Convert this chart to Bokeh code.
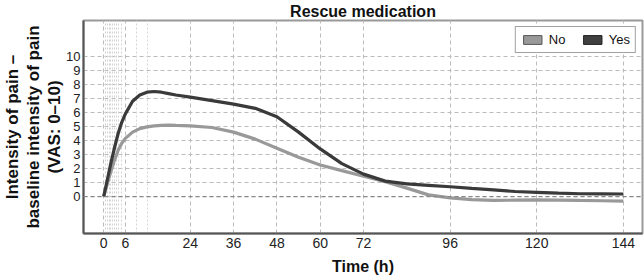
from bokeh.plotting import figure
from bokeh.models import FixedTicker, Grid, Span, Legend, LegendItem, Title, ColumnDataSource, Range1d
from bokeh.embed import file_html
from bokeh.resources import INLINE

# Data
time_h = [0, 1, 2, 3, 4, 5, 6, 8, 10, 12, 14, 16, 18, 20, 24, 30, 36, 42, 48, 54, 60, 66,
          72, 78, 84, 90, 96, 102, 108, 114, 120, 126, 132, 138, 144]
rescue_yes = [0, 1.2, 2.4, 3.5, 4.5, 5.3, 5.9, 6.8, 7.25, 7.45, 7.5, 7.45, 7.35, 7.25, 7.1,
              6.85, 6.6, 6.3, 5.7, 4.6, 3.4, 2.35, 1.6, 1.1, 0.9, 0.8, 0.7, 0.58, 0.47, 0.36,
              0.3, 0.24, 0.2, 0.19, 0.18]
rescue_no = [0, 0.9, 1.8, 2.6, 3.3, 3.8, 4.15, 4.6, 4.85, 4.97, 5.05, 5.08, 5.1, 5.08, 5.05,
             4.93, 4.6, 4.1, 3.45, 2.8, 2.25, 1.85, 1.45, 1.05, 0.6, 0.12, -0.1, -0.22, -0.28,
             -0.26, -0.24, -0.25, -0.28, -0.3, -0.33]
x_ticks = [0, 6, 24, 36, 48, 60, 72, 96, 120, 144]
x_minor_lines = [0.5, 1, 1.5, 2, 2.5, 3, 3.5, 4, 5, 9, 12]
y_ticks = list(range(0, 11))

FONT = "Liberation Sans"
nan = float("nan")

p = figure(width=644, height=277, output_backend="svg", toolbar_location=None,
           x_range=Range1d(-5.6, 149.3), y_range=Range1d(-2.64, 12.57),
           min_border_left=0, min_border_right=2, min_border_top=0, min_border_bottom=0,
           background_fill_color="white", border_fill_color="white")

p.title.text = "Rescue medication"
p.title.align = "center"
p.title.text_font = FONT
p.title.text_font_size = "16px"
p.title.text_font_style = "bold"
p.title.text_color = "#111111"
p.title.standoff = 1
p.title.offset = 0

p.outline_line_color = "#999999"
p.outline_line_width = 2

# axes
for ax in (p.xaxis[0], p.yaxis[0]):
    ax.axis_line_color = "#555555"
    ax.axis_line_width = 2
    ax.major_tick_out = 0
    ax.major_tick_in = 0
    ax.minor_tick_out = 0
    ax.minor_tick_in = 0
    ax.major_label_text_font = FONT
    ax.major_label_text_color = "#222222"

p.xaxis[0].major_label_text_font_size = "14px"
p.yaxis[0].major_label_text_font_size = "13px"
p.xaxis[0].ticker = FixedTicker(ticks=x_ticks)
p.yaxis[0].ticker = FixedTicker(ticks=y_ticks)
p.xaxis[0].major_label_standoff = 4
p.yaxis[0].major_label_standoff = 3
p.xaxis[0].axis_label = "Time (h)"
p.xaxis[0].axis_label_text_font = FONT
p.xaxis[0].axis_label_text_font_size = "16px"
p.xaxis[0].axis_label_text_font_style = "bold"
p.xaxis[0].axis_label_text_color = "#111111"
p.xaxis[0].axis_label_standoff = 7

# left multi-line label via titles
for line in ["(VAS: 0\u201310)", "baseline intensity of pain", "Intensity of pain \u2013"]:
    t = Title(text=line, align="center", text_font=FONT, text_font_size="17px",
              text_font_style="bold", text_color="#111111", standoff=0, offset=0)
    p.add_layout(t, "left")

# grids
p.xgrid[0].ticker = FixedTicker(ticks=x_ticks)
p.ygrid[0].ticker = FixedTicker(ticks=y_ticks)
p.xgrid[0].grid_line_color = "#bbbbbb"
p.xgrid[0].grid_line_dash = "4 3"
p.ygrid[0].grid_line_color = "#bbbbbb"
p.ygrid[0].grid_line_dash = "4 3"
minor = Grid(dimension=0, ticker=FixedTicker(ticks=x_minor_lines),
             grid_line_color="#d4d4d4", grid_line_dash="2 2", grid_line_width=1)
p.add_layout(minor)
p.add_layout(Span(location=0, dimension="width", line_color="#888888",
                  line_dash="4 3", line_width=1.2))

src = ColumnDataSource(dict(t=time_h, yes=rescue_yes, no=rescue_no))
p.line("t", "no", source=src, line_color="#999999", line_width=3.2)
p.line("t", "yes", source=src, line_color="#3a3a3a", line_width=3.2)

# legend swatches (dummy glyphs with no visible data)
empty = ColumnDataSource(dict(l=[nan], r=[nan], b=[nan], t=[nan]))
sw_no = p.quad(left="l", right="r", bottom="b", top="t", source=empty,
               fill_color="#999999", line_color="#555555")
sw_yes = p.quad(left="l", right="r", bottom="b", top="t", source=empty,
                fill_color="#404040", line_color="#222222")
legend = Legend(items=[LegendItem(label="No", renderers=[sw_no], index=0),
                       LegendItem(label="Yes", renderers=[sw_yes], index=0)],
                orientation="horizontal", location="top_right",
                label_text_font=FONT, label_text_font_size="13px",
                label_text_color="#111111",
                glyph_width=23, glyph_height=11, label_standoff=5, spacing=12,
                padding=5, margin=6,
                border_line_color="#444444", border_line_width=1,
                background_fill_alpha=1)
p.add_layout(legend)

open("out.html", "w").write(file_html(p, INLINE))
